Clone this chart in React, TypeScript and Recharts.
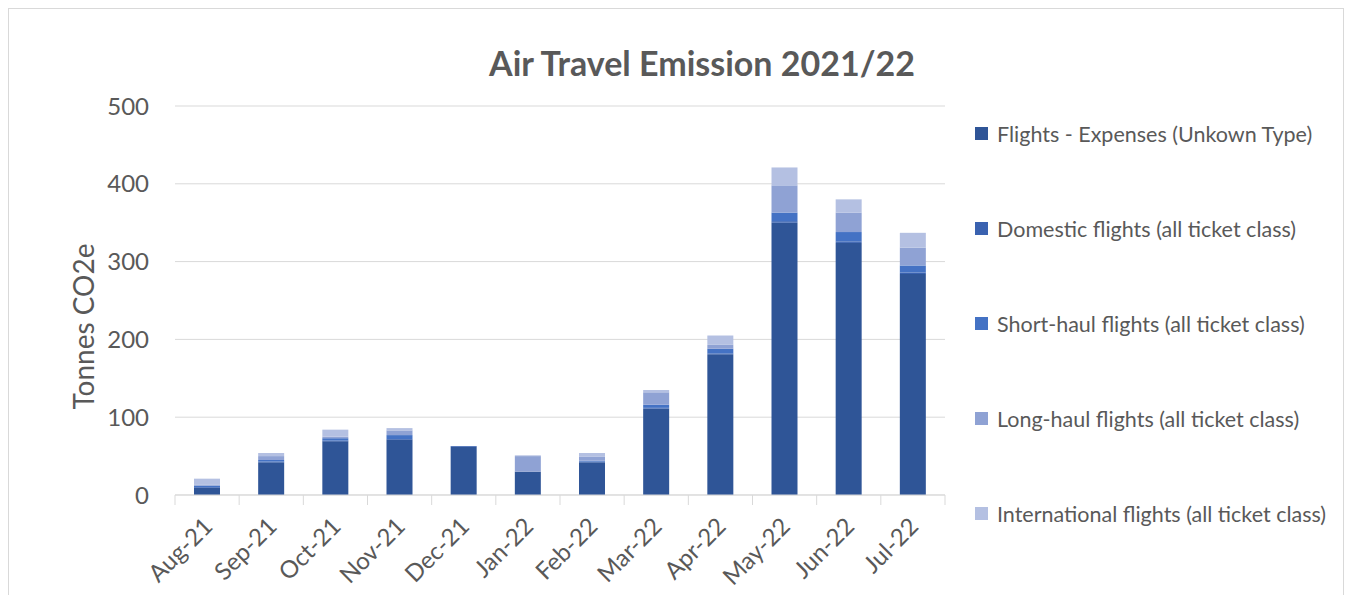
import React from "react";
import {
  BarChart,
  Bar,
  XAxis,
  YAxis,
  CartesianGrid,
  Legend,
} from "recharts";

const months = [
  "Aug-21", "Sep-21", "Oct-21", "Nov-21", "Dec-21", "Jan-22",
  "Feb-22", "Mar-22", "Apr-22", "May-22", "Jun-22", "Jul-22",
];
const expenses = [9, 42, 69, 71, 62, 30, 42, 111, 181, 350, 324, 284];
const domestic = [1, 1, 1, 1, 1, 0, 1, 1, 1, 2, 2, 2];
const shortHaul = [2, 2, 3, 5, 0, 0, 1, 4, 6, 11, 12, 9];
const longHaul = [1, 5, 2, 6, 0, 20, 5, 16, 5, 35, 25, 23];
const international = [8, 4, 9, 3, 0, 1, 5, 3, 12, 23, 17, 19];
const yTicks = [0, 100, 200, 300, 400, 500];

const series = [
  { key: "expenses", name: "Flights - Expenses (Unkown Type)", color: "#2F5597" },
  { key: "domestic", name: "Domestic flights (all ticket class)", color: "#3A62B0" },
  { key: "shortHaul", name: "Short-haul flights (all ticket class)", color: "#4472C4" },
  { key: "longHaul", name: "Long-haul flights (all ticket class)", color: "#8FA2D4" },
  { key: "international", name: "International flights (all ticket class)", color: "#B4C0E2" },
];

const data = months.map((m, i) => ({
  month: m,
  expenses: expenses[i],
  domestic: domestic[i],
  shortHaul: shortHaul[i],
  longHaul: longHaul[i],
  international: international[i],
}));

const FONT = "Lato, 'Open Sans', sans-serif";
const TEXT = "#595959";
const GRID = "#d9d9d9";

function MonthTick(props: any) {
  const { x, y, payload, index, visibleTicksCount } = props;
  const half = payload && payload.offset ? payload.offset : 32;
  const last = index === (visibleTicksCount ?? months.length) - 1;
  return (
    <g>
      <line x1={x - half} y1={y - 8} x2={x - half} y2={y + 2} stroke={GRID} />
      {last && <line x1={x + half} y1={y - 8} x2={x + half} y2={y + 2} stroke={GRID} />}
      <text
        x={x + 7}
        y={y + 25}
        textAnchor="end"
        fill={TEXT}
        fontSize={24}
        fontFamily={FONT}
        transform={`rotate(-45, ${x + 7}, ${y + 25})`}
      >
        {payload.value}
      </text>
    </g>
  );
}

function YLabel(props: any) {
  const vb = props.viewBox || {};
  const cx = 83;
  const cy = (vb.y ?? 106) + (vb.height ?? 389) / 2 + 26;
  return (
    <text
      x={cx}
      y={cy}
      textAnchor="middle"
      dominantBaseline="central"
      fill={TEXT}
      fontSize={28}
      fontFamily={FONT}
      transform={`rotate(-90, ${cx}, ${cy})`}
    >
      Tonnes CO2e
    </text>
  );
}

function LegendList(props: any) {
  const items = props.payload || [];
  const ordered = series
    .map((s) => items.find((it: any) => it.dataKey === s.key || it.value === s.name))
    .filter(Boolean);
  return (
    <div style={{ fontFamily: FONT }}>
      {ordered.map((it: any) => (
        <div
          key={it.value}
          style={{ display: "flex", alignItems: "center", height: 95, color: TEXT, fontSize: 21.5 }}
        >
          <span
            style={{
              display: "inline-block",
              width: 13,
              height: 13,
              background: it.color,
              marginRight: 9,
            }}
          />
          {it.value}
        </div>
      ))}
    </div>
  );
}

export default function App() {
  return (
    <div
      style={{
        position: "absolute",
        left: 0,
        top: 0,
        width: 1351,
        height: 595,
        background: "#fff",
        overflow: "hidden",
      }}
    >
      <div
        style={{
          position: "absolute",
          left: 8,
          top: 8,
          width: 1334,
          height: 620,
          border: "1px solid #d9d9d9",
        }}
      />
      <div
        style={{
          position: "absolute",
          left: 0,
          width: 1404,
          top: 42,
          textAlign: "center",
          fontFamily: FONT,
          fontWeight: 700,
          fontSize: 34,
          color: TEXT,
        }}
      >
        Air Travel Emission 2021/22
      </div>
      <div style={{ position: "absolute", left: 0, top: 0 }}>
        <BarChart
          width={1351}
          height={595}
          data={data}
          margin={{ top: 106, right: 30, bottom: 0, left: 0 }}
          barSize={26}
        >
          <CartesianGrid vertical={false} stroke={GRID} />
          <XAxis
            dataKey="month"
            height={100}
            axisLine={{ stroke: GRID }}
            tickLine={false}
            interval={0}
            tick={<MonthTick />}
          />
          <YAxis
            width={175}
            domain={[0, 500]}
            ticks={yTicks}
            axisLine={false}
            tickLine={false}
            tickMargin={20}
            tick={{ fill: TEXT, fontSize: 24, fontFamily: FONT }}
            label={<YLabel />}
          />
          <Legend
            layout="vertical"
            align="right"
            verticalAlign="top"
            content={<LegendList />}
            wrapperStyle={{ left: 975, top: 86, width: 376 }}
          />
          {series.map((s) => (
            <Bar
              key={s.key}
              dataKey={s.key}
              name={s.name}
              stackId="a"
              fill={s.color}
              isAnimationActive={false}
            />
          ))}
        </BarChart>
      </div>
    </div>
  );
}
